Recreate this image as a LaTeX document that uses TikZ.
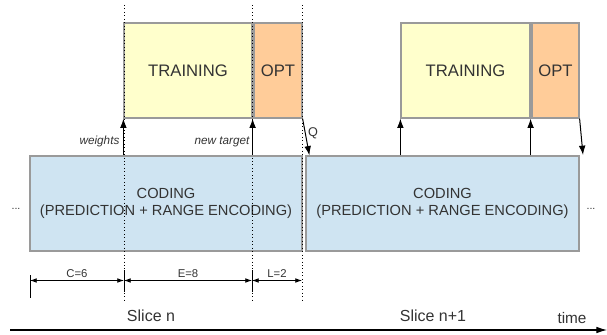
\documentclass[tikz,border=0pt]{standalone}
\usepackage{fontspec}
\setmainfont{Liberation Sans}
\usetikzlibrary{arrows.meta}
\definecolor{txt}{HTML}{333333}
\definecolor{edge}{HTML}{9A9A9A}
\definecolor{trfill}{HTML}{FFFFCC}
\definecolor{opfill}{HTML}{FFCC99}
\definecolor{cofill}{HTML}{CFE4F2}
\tikzset{
  box/.style={draw=edge, line width=0.9pt, inner sep=0pt, text=txt, align=center},
  trbox/.style={box, fill=trfill, minimum height=71.25pt, font=\fontsize{12.5}{14}\selectfont},
  opbox/.style={box, fill=opfill, minimum height=71.25pt, font=\fontsize{12.5}{14}\selectfont},
  cobox/.style={box, fill=cofill, minimum height=71.25pt, font=\fontsize{11}{12.5}\selectfont},
  arr/.style={-{Latex[length=7pt,width=5pt]}, line width=0.75pt},
  dimarr/.style={{Latex[length=5pt,width=3.5pt]}-{Latex[length=5pt,width=3.5pt]}, line width=0.6pt},
  guide/.style={dotted, line width=0.6pt},
  lbl/.style={text=txt, inner sep=1pt},
}
\begin{document}
\begin{tikzpicture}[x=0.75pt,y=-0.75pt]
\useasboundingbox (0,0) rectangle (607,335);
% boxes
\node[trbox, minimum width=96pt] (tr1) at (188,70.5) {TRAINING};
\node[opbox, minimum width=36pt] (op1) at (278,70.5) {OPT};
\node[trbox, minimum width=96.75pt] (tr2) at (465.5,70.5) {TRAINING};
\node[opbox, minimum width=35.25pt] (op2) at (555.5,70.5) {OPT};
\node[cobox, minimum width=204pt] (co1) at (166,203.5) {CODING\\(PREDICTION + RANGE ENCODING)};
\node[cobox, minimum width=204.75pt] (co2) at (442.5,203.5) {CODING\\(PREDICTION + RANGE ENCODING)};
\node[lbl, font=\fontsize{8}{9}\selectfont] (dl) at (16,209) {...};
\node[lbl, font=\fontsize{8}{9}\selectfont] (dr) at (591,209) {...};
% guide lines
\coordinate (g1t) at (124,5); \coordinate (g1b) at (124,303);
\coordinate (g2t) at (252,5); \coordinate (g2b) at (252,303);
\coordinate (g3t) at (302,5); \coordinate (g3b) at (302,301);
\draw[guide] (g1t) -- (g1b);
\draw[guide] (g2t) -- (g2b);
\draw[guide] (g3t) -- (g3b);
% arrows
\draw[arr] (co1.north -| tr1.south west) -- (tr1.south west);
\draw[arr] (co1.north -| tr1.south east) -- (tr1.south east);
\draw[arr] (op1.south east) -- ([xshift=3pt]co2.north west);
\draw[arr] (co2.north -| tr2.south west) -- (tr2.south west);
\draw[arr] (co2.north -| tr2.south east) -- (tr2.south east);
\coordinate (q2) at (583,155);
\draw[arr] (op2.south east) -- (q2);
\node[lbl, anchor=east, font=\itshape\fontsize{8.8}{10}\selectfont] (wl) at (121,141) {weights};
\node[lbl, anchor=east, font=\itshape\fontsize{8.8}{10}\selectfont] (nt) at (251,142) {new target};
\node[lbl, font=\fontsize{9.5}{11}\selectfont] (q1l) at (313,133) {Q};
% dimension lines
\coordinate (d0t) at (30,275); \coordinate (d0b) at (30,298);
\coordinate (d1t) at (124,270); \coordinate (d1b) at (124,292);
\coordinate (d2t) at (252,270); \coordinate (d2b) at (252,292);
\draw[line width=0.7pt] (d0t) -- (d0b);
\draw[line width=0.7pt] (d1t) -- (d1b);
\draw[line width=0.7pt] (d2t) -- (d2b);
\coordinate (a0) at (30,280.5); \coordinate (a1) at (124,280.5);
\coordinate (a2) at (252,280.5); \coordinate (a3) at (302,280.5);
\draw[dimarr] (a0) -- node[lbl, above=1pt, font=\fontsize{8.5}{9}\selectfont] (cl) {C=6} (a1);
\draw[dimarr] (a1) -- node[lbl, above=1pt, font=\fontsize{8.5}{9}\selectfont] (el) {E=8} (a2);
\draw[dimarr] (a2) -- node[lbl, above=1pt, font=\fontsize{8.5}{9}\selectfont] (ll) {L=2} (a3);
% slice labels and time axis
\node[lbl, font=\fontsize{12}{14}\selectfont] (sn) at (151,316) {Slice n};
\node[lbl, font=\fontsize{12}{14}\selectfont] (sn1) at (433,316) {Slice n+1};
\node[lbl, font=\fontsize{11.5}{13}\selectfont] (tm) at (572,318) {time};
\coordinate (t0) at (10,330); \coordinate (t1) at (607,330);
\draw[-{Latex[length=8pt,width=5pt]}, line width=0.8pt] (t0) -- (t1);
\end{tikzpicture}
\end{document}
